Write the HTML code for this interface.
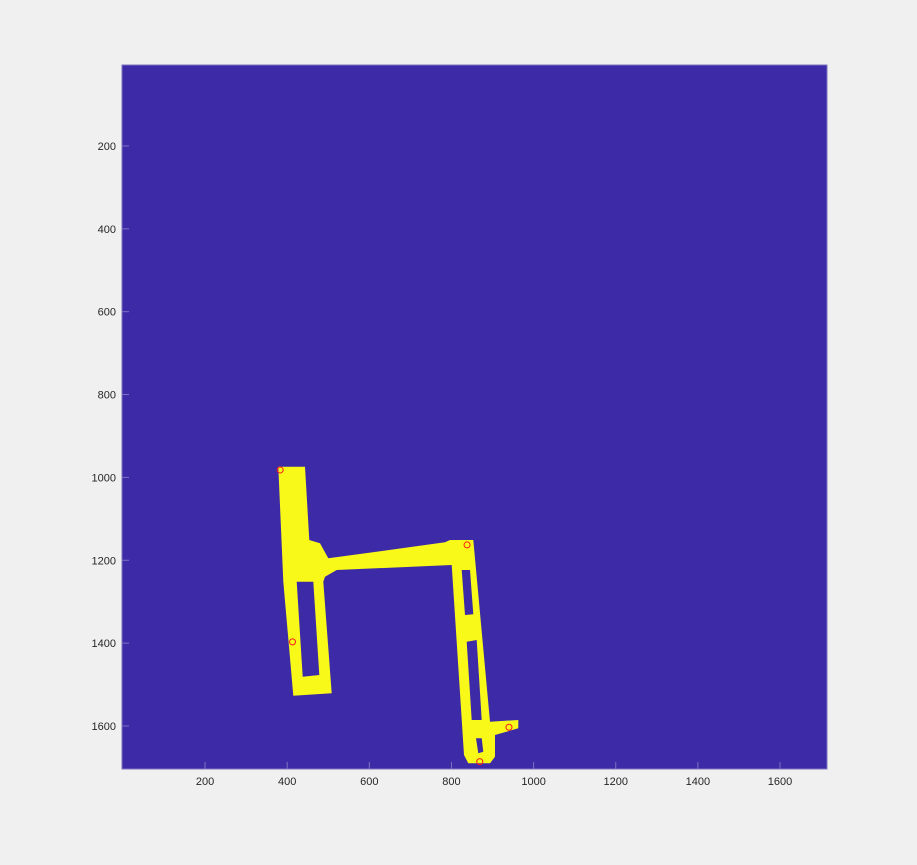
<!DOCTYPE html>
<html><head><meta charset="utf-8"><style>
body{margin:0;background:#f0f0f0;}
svg{display:block;font-family:"Liberation Sans",sans-serif;}
</style></head><body>
<svg width="917" height="865">
<rect x="122" y="65" width="705" height="704" fill="#3d2aa6" stroke="#7b73c0" stroke-width="1"/>
<path fill="#f8f819" fill-rule="evenodd" d="
M278.3,466.7 L305,466.7 L309.3,540 L320,543.3 L328.3,558.3 L445,542.3 L450,540 L473.3,540 L490,721.7 L518.3,720 L518.3,728.3 L495,735 L495,756.7 L490,763.3 L468.3,763.3 L464,755 L451.7,565 L336.7,570 L325,576.7 L323.3,581.7 L331.7,693.3 L293.3,695.7 L283.3,581.7 Z
M296.7,581.7 L313.3,581.7 L319.3,675 L302.7,676.7 Z
M461.7,570 L470,570 L473.3,614.3 L465,615 Z
M466.7,641.7 L476.7,640 L481.7,720 L471.7,720 Z
M476,738.3 L481.7,738.3 L483.3,751.7 L478.3,753.3 Z"/>
<g id="ticks"></g>
<g id="pts"></g>
</svg>
<script>
const xTicks=[200,400,600,800,1000,1200,1400,1600];
const yTicks=[200,400,600,800,1000,1200,1400,1600];
const ptX=[383,413,838,940,869];
const ptY=[982,1397,1163,1603,1686];
const sx=v=>122.9+v*0.4107;
const sy=v=>63.1+v*0.4143;
const NS="http://www.w3.org/2000/svg";
const tg=document.getElementById('ticks');
xTicks.forEach(t=>{
 const l=document.createElementNS(NS,'line');
 l.setAttribute('x1',sx(t));l.setAttribute('x2',sx(t));l.setAttribute('y1',769);l.setAttribute('y2',762);l.setAttribute('stroke','#7b73c0');
 
 
 tg.appendChild(l);
 const s=document.createElementNS(NS,'text');
 s.setAttribute('x',sx(t));s.setAttribute('y',785);s.setAttribute('text-anchor','middle');s.setAttribute('font-size','11');s.setAttribute('fill','#262626');
 s.textContent=t;
 
 
 tg.appendChild(s);
});
yTicks.forEach(t=>{
 const l=document.createElementNS(NS,'line');
 l.setAttribute('x1',122);l.setAttribute('x2',129);l.setAttribute('y1',sy(t));l.setAttribute('y2',sy(t));l.setAttribute('stroke','#7b73c0');
 
 
 tg.appendChild(l);
 const s=document.createElementNS(NS,'text');
 s.setAttribute('x',116);s.setAttribute('y',sy(t)+4);s.setAttribute('text-anchor','end');s.setAttribute('font-size','11');s.setAttribute('fill','#262626');
 s.textContent=t;
 
 
 tg.appendChild(s);
});
const pg=document.getElementById('pts');
ptX.forEach((x,i)=>{
 const c=document.createElementNS(NS,'circle');
 c.setAttribute('cx',sx(x));c.setAttribute('cy',sy(ptY[i]));c.setAttribute('r',3);c.setAttribute('fill','none');c.setAttribute('stroke','#ff1a1a');c.setAttribute('stroke-width','1');
 
 
 pg.appendChild(c);
});
</script>
</body></html>
